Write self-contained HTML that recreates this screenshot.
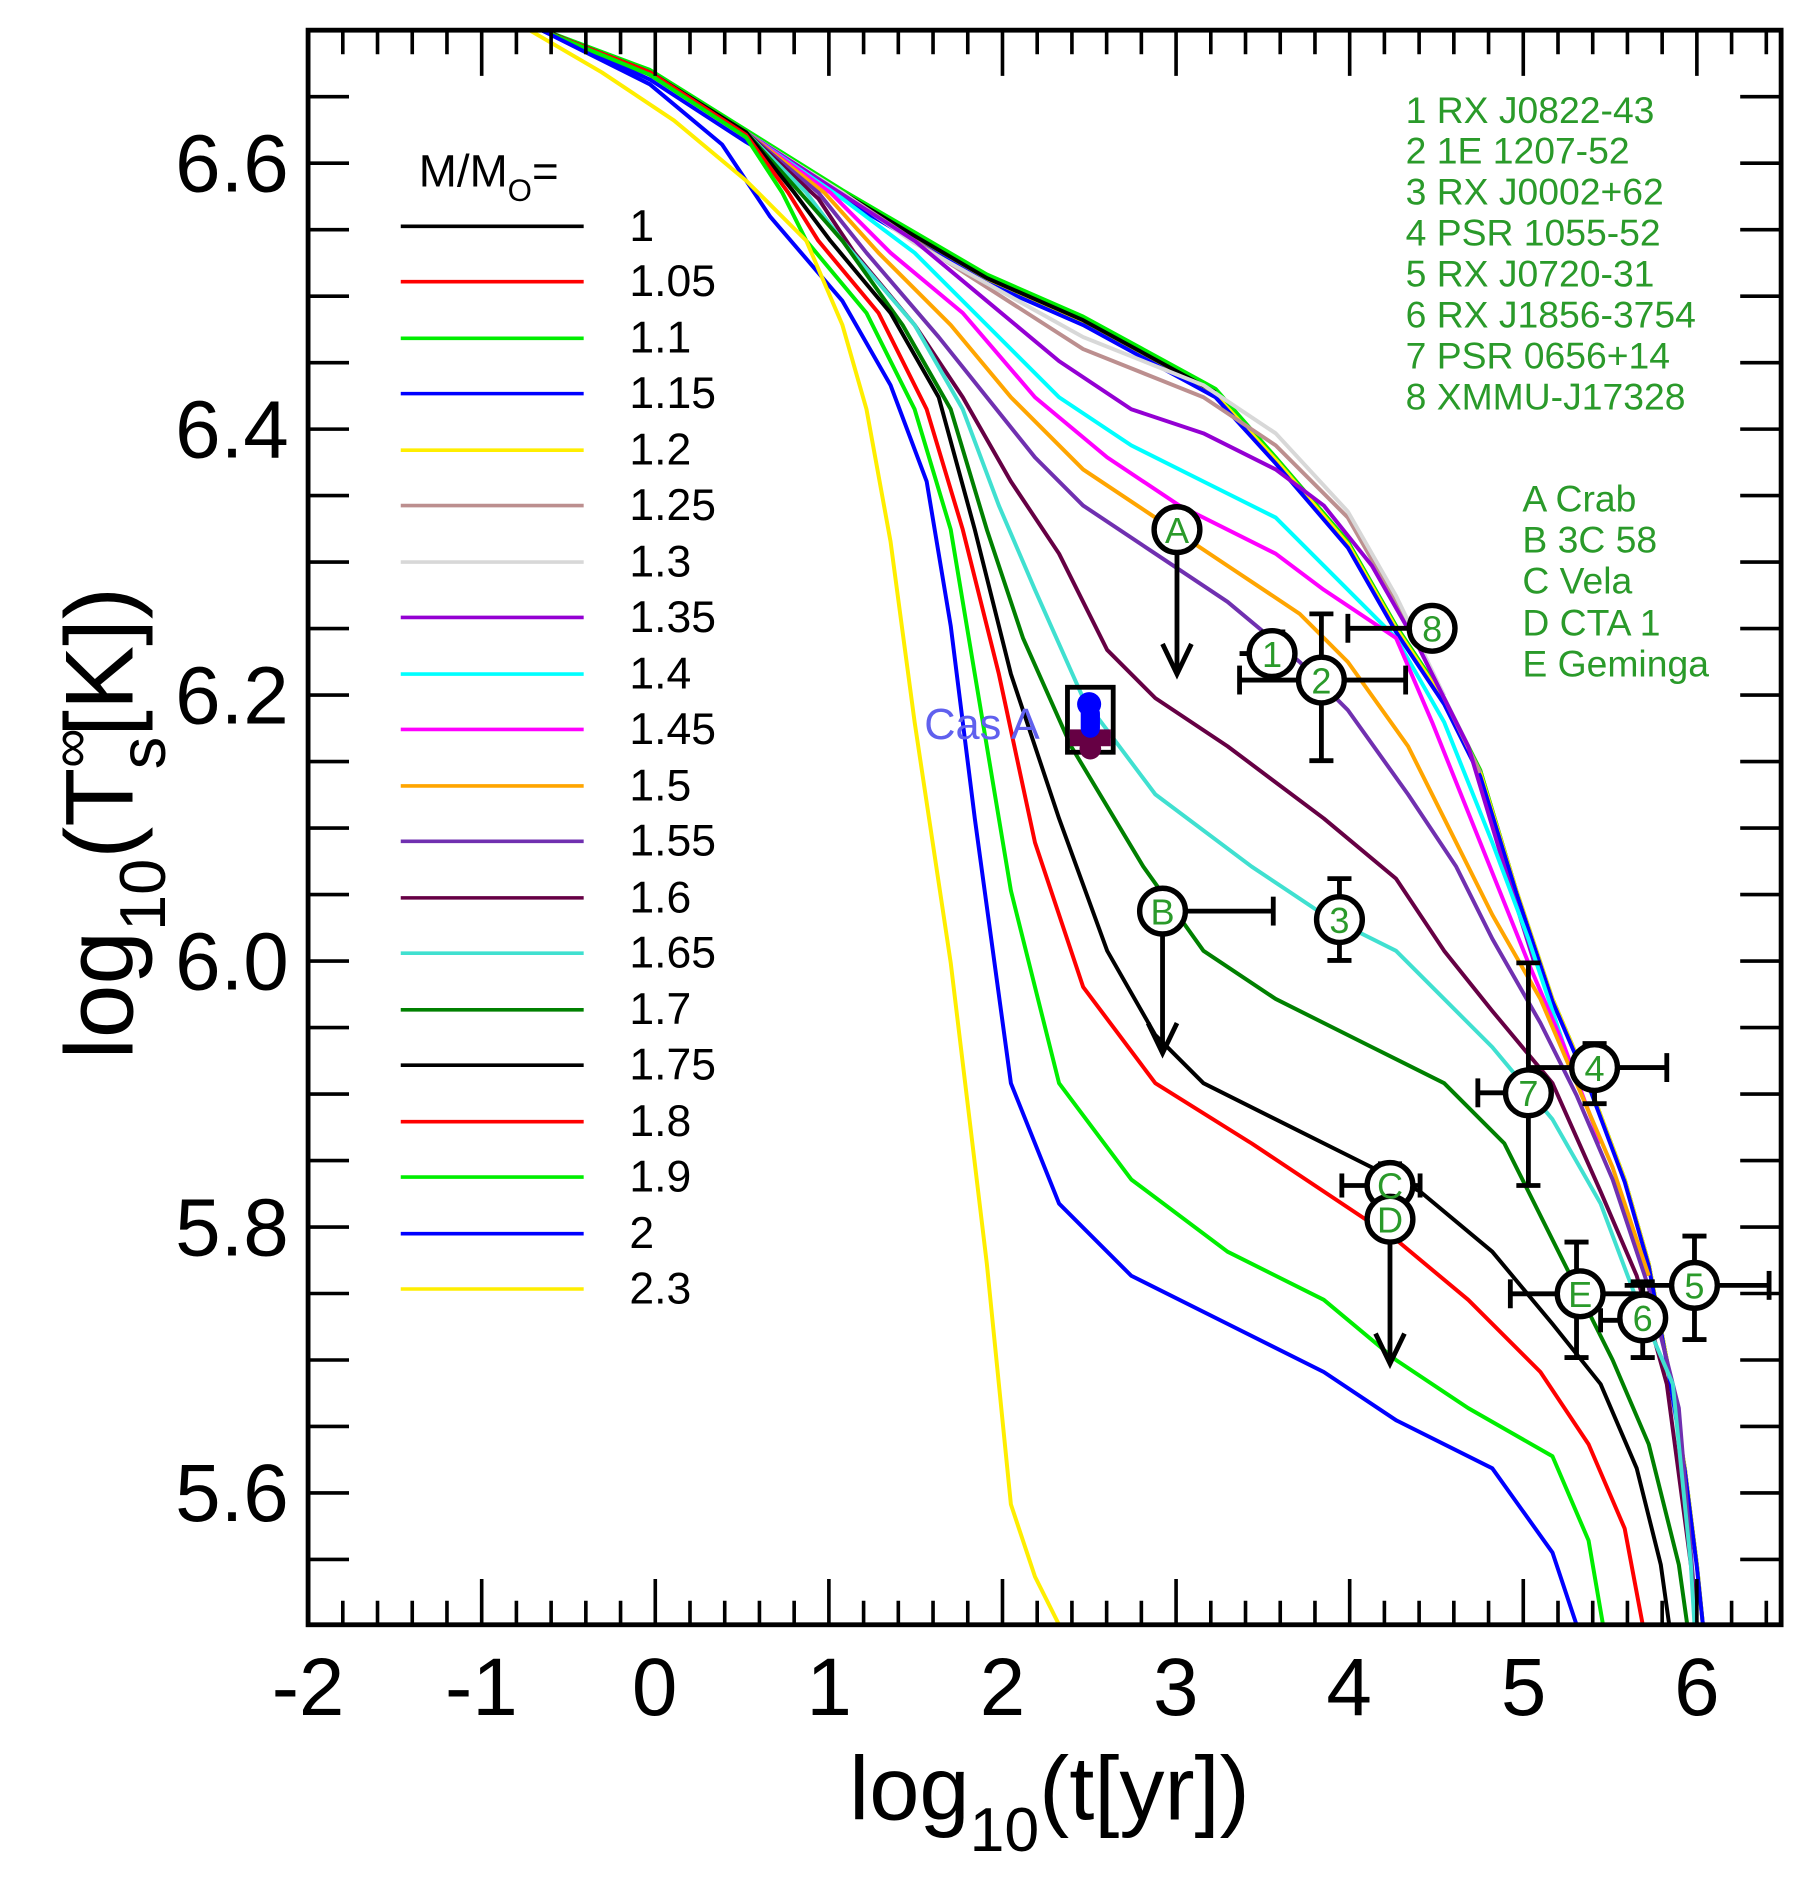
<!DOCTYPE html>
<html><head><meta charset="utf-8"><style>
html,body{margin:0;padding:0;background:#fff}
svg{display:block}
text{font-family:"Liberation Sans",sans-serif}
</style></head><body>
<svg width="1810" height="1886" viewBox="0 0 1504 1567" xmlns="http://www.w3.org/2000/svg">
<rect width="1504" height="1567" fill="#fff"/>
<g fill="none" stroke-width="3.3" stroke-linejoin="round">
<polyline stroke="#ff0000" points="450,25 540,60 620,110 700,160 760,195 820,230 900,265 1010,325 1060,380 1120,450 1160,520 1200,580 1230,640 1260,740 1290,830 1320,900 1350,980 1370,1050 1385,1130 1400,1220 1410,1300 1415,1350"/>
<polyline stroke="#00ee00" points="452,25 540,58 620,108 700,158 760,193 820,228 900,263 1010,323 1060,380 1120,450 1160,520 1200,580 1230,640 1260,740 1290,830 1320,900 1350,980 1370,1050 1385,1130 1400,1220 1410,1300 1415,1350"/>
<polyline stroke="#ffee00" points="450,25 540,60 620,112 700,162 760,198 820,233 900,268 1010,328 1060,382 1120,452 1160,522 1200,582 1230,642 1260,740 1290,830 1320,900 1350,980 1370,1050 1385,1130 1400,1220 1410,1300 1415,1350"/>
<polyline stroke="#0000ff" points="450,25 540,66 620,118 700,165 760,200 820,235 900,270 1010,330 1060,385 1120,455 1160,525 1200,585 1230,645 1260,742 1290,832 1320,902 1350,982 1370,1052 1385,1132 1400,1222 1410,1302 1415,1350"/>
<polyline stroke="#000000" points="452,25 540,62 620,112 700,160 760,196 820,231 900,266 1010,326"/>
<polyline stroke="#bc8f8f" points="450,25 540,60 620,110 700,160 760,200 900,290 1000,330 1060,370 1120,430 1160,500 1200,580 1230,642"/>
<polyline stroke="#d8d8d8" points="450,25 540,60 620,110 700,160 760,202 900,280 1000,320 1060,360 1120,425 1160,495 1200,578"/>
<polyline stroke="#9400d3" points="450,25 540,60 620,110 690,155 760,200 820,250 880,300 940,340 1000,360 1060,390 1100,420 1140,470 1180,540 1220,620 1250,720 1275,800"/>
<polyline stroke="#00ffff" points="450,25 540,60 620,110 700,165 760,210 820,270 880,330 940,370 1000,400 1060,430 1100,470 1160,530 1200,600 1240,700 1270,780 1300,870"/>
<polyline stroke="#ff00ff" points="450,25 540,60 620,110 690,160 740,210 800,260 860,330 920,380 980,420 1060,460 1100,490 1160,530 1190,600 1230,700 1270,800 1300,870 1330,950"/>
<polyline stroke="#ffa500" points="450,25 540,60 620,110 685,160 730,210 790,270 840,330 900,390 960,430 1020,470 1080,510 1120,550 1170,620 1200,680 1240,760 1280,830 1310,900 1340,970 1370,1060"/>
<polyline stroke="#7030b0" points="450,25 540,60 620,110 680,160 720,210 780,280 820,330 860,380 900,420 960,460 1020,500 1080,550 1120,590 1170,660 1210,720 1240,780 1280,850 1310,910 1340,980 1370,1070 1395,1170 1410,1350"/>
<polyline stroke="#660044" points="450,25 540,60 620,110 680,165 710,210 760,270 800,330 840,400 880,460 920,540 960,580 1020,620 1100,680 1160,730 1200,790 1240,840 1290,900 1330,990 1360,1060 1385,1150 1405,1300 1410,1350"/>
<polyline stroke="#40e0d0" points="450,25 540,60 620,110 670,160 700,200 760,270 800,340 830,420 860,490 900,580 960,660 1040,720 1100,760 1160,790 1200,830 1240,870 1290,930 1330,1000 1360,1080 1390,1150 1405,1300 1408,1350"/>
<polyline stroke="#008000" points="450,25 540,60 620,110 665,160 700,200 750,270 790,340 820,440 850,530 890,620 950,720 1000,790 1060,830 1140,870 1200,900 1250,950 1300,1050 1340,1130 1370,1200 1395,1300 1402,1350"/>
<polyline stroke="#000000" points="450,25 540,60 620,110 660,160 690,200 740,260 780,330 810,440 840,560 880,680 920,790 960,860 1000,900 1060,930 1120,960 1180,990 1240,1040 1290,1100 1330,1150 1360,1220 1380,1300 1387,1350"/>
<polyline stroke="#ff0000" points="450,25 540,60 620,112 655,160 680,200 730,260 770,340 800,440 830,560 860,700 900,820 960,900 1040,950 1100,990 1160,1030 1220,1080 1280,1140 1320,1200 1350,1270 1365,1350"/>
<polyline stroke="#00ee00" points="450,25 540,62 620,114 650,160 670,200 720,260 760,340 790,440 810,560 840,740 880,900 940,980 1020,1040 1100,1080 1160,1130 1220,1170 1290,1210 1320,1280 1332,1350"/>
<polyline stroke="#0000ff" points="450,25 540,70 600,120 640,180 700,250 740,320 770,400 790,520 810,680 840,900 880,1000 940,1060 1020,1100 1100,1140 1160,1180 1240,1220 1290,1290 1310,1350"/>
<polyline stroke="#ffee00" points="440,25 500,60 560,100 620,150 670,200 700,270 720,340 740,450 760,600 790,800 820,1050 840,1250 860,1310 880,1350"/>
</g>
<rect x="256" y="25" width="1224" height="1325" fill="none" stroke="#000" stroke-width="4"/>
<path fill="none" stroke="#000" stroke-width="3" d="
M256,1350v-38M284.85,1350v-20M313.7,1350v-20M342.55,1350v-20M371.4,1350v-20M400.25,1350v-38M429.1,1350v-20M457.95,1350v-20M486.8,1350v-20M515.65,1350v-20M544.5,1350v-38M573.35,1350v-20M602.2,1350v-20M631.05,1350v-20M659.9,1350v-20M688.75,1350v-38M717.6,1350v-20M746.45,1350v-20M775.3,1350v-20M804.15,1350v-20M833,1350v-38M861.85,1350v-20M890.7,1350v-20M919.55,1350v-20M948.4,1350v-20M977.25,1350v-38M1006.1,1350v-20M1034.95,1350v-20M1063.8,1350v-20M1092.65,1350v-20M1121.5,1350v-38M1150.35,1350v-20M1179.2,1350v-20M1208.05,1350v-20M1236.9,1350v-20M1265.75,1350v-38M1294.6,1350v-20M1323.45,1350v-20M1352.3,1350v-20M1381.15,1350v-20M1410,1350v-38M1438.85,1350v-20M1467.7,1350v-20
M284.85,25v20M313.7,25v20M342.55,25v20M371.4,25v20M400.25,25v38M429.1,25v20M457.95,25v20M486.8,25v20M515.65,25v20M544.5,25v38M573.35,25v20M602.2,25v20M631.05,25v20M659.9,25v20M688.75,25v38M717.6,25v20M746.45,25v20M775.3,25v20M804.15,25v20M833,25v38M861.85,25v20M890.7,25v20M919.55,25v20M948.4,25v20M977.25,25v38M1006.1,25v20M1034.95,25v20M1063.8,25v20M1092.65,25v20M1121.5,25v38M1150.35,25v20M1179.2,25v20M1208.05,25v20M1236.9,25v20M1265.75,25v38M1294.6,25v20M1323.45,25v20M1352.3,25v20M1381.15,25v20M1410,25v38M1438.85,25v20M1467.7,25v20
M256,80.25h34M256,135.5h34M256,190.75h34M256,246h34M256,301.25h34M256,356.5h34M256,411.75h34M256,467h34M256,522.25h34M256,577.5h34M256,632.75h34M256,688h34M256,743.25h34M256,798.5h34M256,853.75h34M256,909h34M256,964.25h34M256,1019.5h34M256,1074.75h34M256,1130h34M256,1185.25h34M256,1240.5h34M256,1295.75h34
M1480,80.25h-34M1480,135.5h-34M1480,190.75h-34M1480,246h-34M1480,301.25h-34M1480,356.5h-34M1480,411.75h-34M1480,467h-34M1480,522.25h-34M1480,577.5h-34M1480,632.75h-34M1480,688h-34M1480,743.25h-34M1480,798.5h-34M1480,853.75h-34M1480,909h-34M1480,964.25h-34M1480,1019.5h-34M1480,1074.75h-34M1480,1130h-34M1480,1185.25h-34M1480,1240.5h-34M1480,1295.75h-34"/>
<text x="348" y="155" font-size="38">M/M<tspan dy="12" font-size="26">O</tspan><tspan dy="-12">=</tspan></text>
<g stroke-width="3">
<line x1="333" y1="188" x2="485" y2="188" stroke="#000"/>
<line x1="333" y1="234" x2="485" y2="234" stroke="#ff0000"/>
<line x1="333" y1="281" x2="485" y2="281" stroke="#00ee00"/>
<line x1="333" y1="327" x2="485" y2="327" stroke="#0000ff"/>
<line x1="333" y1="374" x2="485" y2="374" stroke="#ffee00"/>
<line x1="333" y1="420" x2="485" y2="420" stroke="#bc8f8f"/>
<line x1="333" y1="467" x2="485" y2="467" stroke="#d8d8d8"/>
<line x1="333" y1="513" x2="485" y2="513" stroke="#9400d3"/>
<line x1="333" y1="560" x2="485" y2="560" stroke="#00ffff"/>
<line x1="333" y1="606" x2="485" y2="606" stroke="#ff00ff"/>
<line x1="333" y1="653" x2="485" y2="653" stroke="#ffa500"/>
<line x1="333" y1="699" x2="485" y2="699" stroke="#7030b0"/>
<line x1="333" y1="746" x2="485" y2="746" stroke="#660044"/>
<line x1="333" y1="792" x2="485" y2="792" stroke="#40e0d0"/>
<line x1="333" y1="839" x2="485" y2="839" stroke="#008000"/>
<line x1="333" y1="885" x2="485" y2="885" stroke="#000"/>
<line x1="333" y1="932" x2="485" y2="932" stroke="#ff0000"/>
<line x1="333" y1="978" x2="485" y2="978" stroke="#00ee00"/>
<line x1="333" y1="1025" x2="485" y2="1025" stroke="#0000ff"/>
<line x1="333" y1="1071" x2="485" y2="1071" stroke="#ffee00"/>
</g>
<g font-size="37" fill="#000">
<text x="523" y="200">1</text><text x="523" y="246">1.05</text><text x="523" y="293">1.1</text><text x="523" y="339">1.15</text><text x="523" y="386">1.2</text><text x="523" y="432">1.25</text><text x="523" y="479">1.3</text><text x="523" y="525">1.35</text><text x="523" y="572">1.4</text><text x="523" y="618">1.45</text><text x="523" y="665">1.5</text><text x="523" y="711">1.55</text><text x="523" y="758">1.6</text><text x="523" y="804">1.65</text><text x="523" y="851">1.7</text><text x="523" y="897">1.75</text><text x="523" y="944">1.8</text><text x="523" y="990">1.9</text><text x="523" y="1037">2</text><text x="523" y="1083">2.3</text>
</g>
<g font-size="31" fill="#2a9a2a">
<text x="1168" y="102">1 RX J0822-43</text><text x="1168" y="136">2 1E 1207-52</text><text x="1168" y="170">3 RX J0002+62</text><text x="1168" y="204">4 PSR 1055-52</text><text x="1168" y="238">5 RX J0720-31</text><text x="1168" y="272">6 RX J1856-3754</text><text x="1168" y="306">7 PSR 0656+14</text><text x="1168" y="340">8 XMMU-J17328</text>
<text x="1265" y="425">A Crab</text><text x="1265" y="459">B 3C 58</text><text x="1265" y="493">C Vela</text><text x="1265" y="528">D CTA 1</text><text x="1265" y="562">E Geminga</text>
</g>
<g stroke="#000" stroke-width="4" fill="none">
<line x1="978" y1="440" x2="978" y2="558"/><polyline points="966,535 978,560 990,535"/>
<line x1="1030" y1="543" x2="1060" y2="543"/><line x1="1048" y1="525" x2="1068" y2="525"/>
<line x1="1030" y1="565" x2="1168" y2="565"/><line x1="1030" y1="553" x2="1030" y2="577"/><line x1="1168" y1="553" x2="1168" y2="577"/>
<line x1="1098" y1="510" x2="1098" y2="632"/><line x1="1088" y1="510" x2="1108" y2="510"/><line x1="1088" y1="632" x2="1108" y2="632"/>
<line x1="1120" y1="522" x2="1190" y2="522"/><line x1="1120" y1="510" x2="1120" y2="534"/>
<line x1="966" y1="757" x2="1058" y2="757"/><line x1="1058" y1="745" x2="1058" y2="769"/>
<line x1="966" y1="757" x2="966" y2="873"/><polyline points="954,850 966,875 978,850"/>
<line x1="1113" y1="730" x2="1113" y2="798"/><line x1="1103" y1="730" x2="1123" y2="730"/><line x1="1103" y1="798" x2="1123" y2="798"/>
<line x1="1115" y1="985" x2="1180" y2="985"/><line x1="1115" y1="975" x2="1115" y2="995"/><line x1="1180" y1="975" x2="1180" y2="995"/><line x1="1145" y1="967" x2="1165" y2="967"/>
<line x1="1155" y1="1013" x2="1155" y2="1131"/><polyline points="1143,1108 1155,1133 1167,1108"/>
<line x1="1270" y1="800" x2="1270" y2="985"/><line x1="1260" y1="800" x2="1280" y2="800"/><line x1="1260" y1="985" x2="1280" y2="985"/>
<line x1="1228" y1="908" x2="1290" y2="908"/><line x1="1228" y1="896" x2="1228" y2="920"/>
<line x1="1270" y1="887" x2="1385" y2="887"/><line x1="1385" y1="875" x2="1385" y2="899"/>
<line x1="1325" y1="867" x2="1325" y2="917"/><line x1="1315" y1="867" x2="1335" y2="867"/><line x1="1315" y1="917" x2="1335" y2="917"/>
<line x1="1255" y1="1075" x2="1370" y2="1075"/><line x1="1255" y1="1063" x2="1255" y2="1087"/>
<line x1="1310" y1="1032" x2="1310" y2="1128"/><line x1="1300" y1="1032" x2="1320" y2="1032"/><line x1="1300" y1="1128" x2="1320" y2="1128"/>
<line x1="1330" y1="1097" x2="1370" y2="1097"/><line x1="1330" y1="1087" x2="1330" y2="1107"/>
<line x1="1365" y1="1065" x2="1365" y2="1128"/><line x1="1355" y1="1065" x2="1375" y2="1065"/><line x1="1355" y1="1128" x2="1375" y2="1128"/>
<line x1="1350" y1="1068" x2="1470" y2="1068"/><line x1="1470" y1="1056" x2="1470" y2="1080"/>
<line x1="1408" y1="1027" x2="1408" y2="1113"/><line x1="1398" y1="1027" x2="1418" y2="1027"/><line x1="1398" y1="1113" x2="1418" y2="1113"/>
</g>
<g stroke="#000" stroke-width="4.5" fill="#fff">
<circle cx="978" cy="440" r="19"/><circle cx="1057" cy="543" r="19"/><circle cx="1098" cy="565" r="19"/><circle cx="1190" cy="522" r="19"/>
<circle cx="966" cy="757" r="19"/><circle cx="1113" cy="764" r="19"/><circle cx="1155" cy="985" r="19"/><circle cx="1155" cy="1013" r="19"/>
<circle cx="1270" cy="908" r="19"/><circle cx="1325" cy="887" r="19"/><circle cx="1313" cy="1075" r="19"/><circle cx="1365" cy="1095" r="19"/><circle cx="1408" cy="1068" r="19"/>
</g>
<g font-size="30" fill="#2a9a2a" text-anchor="middle">
<text x="978" y="451">A</text><text x="1057" y="554">1</text><text x="1098" y="576">2</text><text x="1190" y="533">8</text>
<text x="966" y="768">B</text><text x="1113" y="775">3</text><text x="1155" y="996">C</text><text x="1155" y="1024">D</text>
<text x="1270" y="919">7</text><text x="1325" y="898">4</text><text x="1313" y="1086">E</text><text x="1365" y="1106">6</text><text x="1408" y="1079">5</text>
</g>
<rect x="887" y="571" width="38" height="54" fill="none" stroke="#000" stroke-width="4"/>
<rect x="889" y="606" width="34" height="14" fill="#660044"/>
<circle cx="906" cy="622" r="9" fill="#660044"/>
<rect x="898" y="585" width="16" height="28" rx="8" fill="#0000ff"/>
<circle cx="905" cy="585" r="10" fill="#0000ff"/>
<text x="768" y="614" font-size="36" fill="#6060ee">Cas A</text>
<g font-size="68" fill="#000" text-anchor="middle">
<text x="256" y="1425">-2</text><text x="400" y="1425">-1</text><text x="544" y="1425">0</text><text x="689" y="1425">1</text><text x="833" y="1425">2</text><text x="977" y="1425">3</text><text x="1121" y="1425">4</text><text x="1266" y="1425">5</text><text x="1410" y="1425">6</text>
</g>
<g font-size="68" fill="#000" text-anchor="end">
<text x="240" y="159">6.6</text><text x="240" y="380">6.4</text><text x="240" y="601">6.2</text><text x="240" y="822">6.0</text><text x="240" y="1043">5.8</text><text x="240" y="1264">5.6</text>
</g>
<text x="872" y="1512" font-size="75" text-anchor="middle">log<tspan dy="26" font-size="52">10</tspan><tspan dy="-26">(t[yr])</tspan></text>
<text transform="translate(110,684) rotate(-90)" font-size="80" text-anchor="middle">log<tspan dy="27" font-size="54">10</tspan><tspan dy="-27">(T</tspan><tspan dy="-36" font-size="46">∞</tspan><tspan dx="-34" dy="63" font-size="54">s</tspan><tspan dy="-27">[K])</tspan></text>
</svg>
</body></html>
